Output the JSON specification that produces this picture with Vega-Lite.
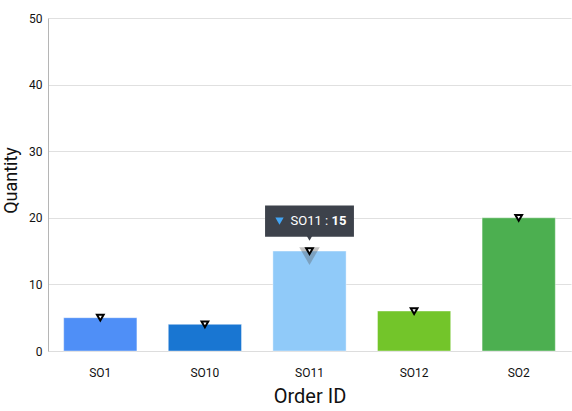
{
  "$schema": "https://vega.github.io/schema/vega-lite/v6.json",
  "width": 523,
  "height": 333,
  "autosize": "none",
  "padding": {"left": 48, "top": 18, "right": 1, "bottom": 60},
  "background": "white",
  "config": {
    "font": "Roboto",
    "view": {"stroke": null}
  },
  "data": {
    "values": [
      {"id": "SO1", "qty": 5, "color": "#4f8ff7"},
      {"id": "SO10", "qty": 4, "color": "#1976d2"},
      {"id": "SO11", "qty": 15, "color": "#90caf9"},
      {"id": "SO12", "qty": 6, "color": "#73c52a"},
      {"id": "SO2", "qty": 20, "color": "#4caf50"}
    ]
  },
  "encoding": {
    "x": {
      "field": "id",
      "type": "nominal",
      "sort": null,
      "scale": {"paddingInner": 0.3, "paddingOuter": 0.15},
      "axis": {
        "title": "Order ID",
        "titleFontSize": 20,
        "titleFontWeight": "normal",
        "titleColor": "#111",
        "titleBaseline": "middle",
        "titleY": 45,
        "labelAngle": 0,
        "labelFontSize": 12,
        "labelColor": "#111",
        "labelPadding": 16,
        "ticks": false,
        "domainColor": "#dddddd",
        "grid": false
      }
    },
    "y": {
      "field": "qty",
      "type": "quantitative",
      "scale": {"domain": [0, 50]},
      "axis": {
        "title": "Quantity",
        "titleFontSize": 18,
        "titleFontWeight": "normal",
        "titleColor": "#111",
        "titleBaseline": "middle",
        "titleAlign": "center",
        "titleX": -37,
        "titleY": 162,
        "values": [0, 10, 20, 30, 40, 50],
        "labelFontSize": 12,
        "labelColor": "#111",
        "labelPadding": 6,
        "ticks": false,
        "domainColor": "#b5b5b5",
        "gridColor": "#e0e0e0"
      }
    }
  },
  "layer": [
    {
      "mark": {"type": "bar", "stroke": "white", "strokeOpacity": 0.4, "strokeWidth": 1},
      "encoding": {
        "color": {"field": "color", "type": "nominal", "scale": null, "legend": null}
      }
    },
    {
      "transform": [{"filter": "datum.id === 'SO11'"}],
      "mark": {"type": "point", "shape": "triangle-down", "size": 420, "filled": true, "color": "#555555", "opacity": 0.35, "yOffset": 5}
    },
    {
      "mark": {"type": "point", "shape": "triangle-down", "size": 45, "filled": true, "fill": "white", "stroke": "black", "strokeWidth": 2, "opacity": 1}
    },
    {
      "transform": [{"filter": "datum.id === 'SO11'"}],
      "mark": {"type": "point", "shape": "M-1,-0.35L1,-0.35L1,0.35L-1,0.35Z", "size": 7900, "filled": true, "color": "#3d424b", "opacity": 1, "yOffset": -30, "strokeWidth": 0},
      "encoding": {}
    },
    {
      "transform": [{"filter": "datum.id === 'SO11'"}],
      "mark": {"type": "point", "shape": "triangle-down", "size": 40, "filled": true, "color": "#3d424b", "opacity": 1, "yOffset": -13}
    },
    {
      "transform": [{"filter": "datum.id === 'SO11'"}],
      "mark": {"type": "point", "shape": "triangle-down", "size": 70, "filled": true, "color": "#42a5f5", "opacity": 1, "yOffset": -30, "xOffset": -30}
    },
    {
      "transform": [{"filter": "datum.id === 'SO11'"}],
      "mark": {"type": "text", "align": "left", "baseline": "middle", "fontSize": 13, "color": "white", "yOffset": -30, "xOffset": -19},
      "encoding": {"text": {"value": "SO11 :"}}
    },
    {
      "transform": [{"filter": "datum.id === 'SO11'"}],
      "mark": {"type": "text", "align": "left", "baseline": "middle", "fontSize": 13, "fontWeight": "bold", "color": "white", "yOffset": -30, "xOffset": 22},
      "encoding": {"text": {"field": "qty", "type": "quantitative"}}
    }
  ]
}
